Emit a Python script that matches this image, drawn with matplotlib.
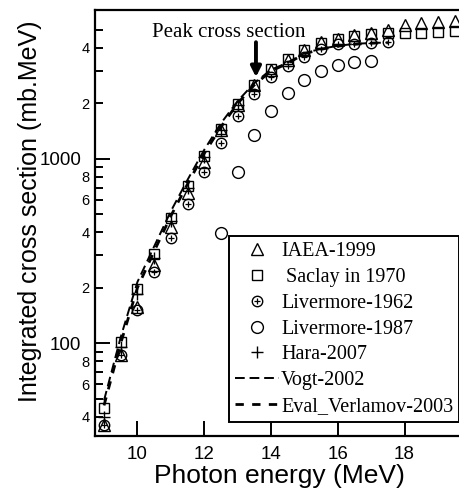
import matplotlib
matplotlib.use('Agg')
import matplotlib.pyplot as plt
from matplotlib.ticker import FixedLocator, FuncFormatter, NullFormatter
from matplotlib.legend_handler import HandlerTuple


# photon energies (MeV) for each data set
E_IAEA = [9.0, 9.5, 10.0, 10.5, 11.0, 11.5, 12.0, 12.5, 13.0, 13.5, 14.0, 14.5,
          15.0, 15.5, 16.0, 16.5, 17.0, 17.5, 18.0, 18.5, 19.0, 19.5]
IAEA_1999 = [36, 86, 158, 266, 429, 654, 967, 1436, 1960, 2521, 3040, 3450,
             3900, 4330, 4480, 4720, 4820, 5000, 5330, 5450, 5540, 5630]

E_SACLAY = E_IAEA
SACLAY_1970 = [44.4, 101, 196, 305, 477, 714, 1042, 1455, 1988, 2521, 3067, 3475,
               3902, 4245, 4463, 4648, 4750, 4830, 4830, 4830, 4880, 4930]

E_LIV62 = [9.0, 9.5, 10.0, 10.5, 11.0, 11.5, 12.0, 12.5, 13.0, 13.5, 14.0, 14.5,
           15.0, 15.5, 16.0, 16.5, 17.0, 17.5]
LIVERMORE_1962 = [36, 86, 151, 245, 374, 570, 847, 1225, 1715, 2244, 2775, 3200,
                  3590, 3950, 4180, 4220, 4280, 4290]

E_LIV87 = [12.5, 13.0, 13.5, 14.0, 14.5, 15.0, 15.5, 16.0, 16.5, 17.0]
LIVERMORE_1987 = [395, 853, 1349, 1821, 2291, 2684, 3015, 3236, 3373, 3404]

E_HARA = [9.0, 9.5, 10.0, 10.5, 11.0, 11.5, 12.0, 12.5, 13.0]
HARA_2007 = [40, 95, 185, 290, 460, 700, 1030, 1440, 1970]

E_EVAL = E_LIV62
VOGT_2002 = [49, 108, 215, 335, 520, 770, 1120, 1560, 2060, 2580, 3050, 3330,
             3750, 3960, 4110, 4210, 4260, 4280]
EVAL_VERLAMOV_2003 = [46, 100, 200, 315, 490, 730, 1070, 1490, 2000, 2520, 3000, 3300,
                      3720, 3940, 4090, 4190, 4250, 4270]

PEAK_E = 13.55
PEAK_ARROW = (4300, 2780)

plt.rcParams['font.family'] = ['Liberation Sans', 'DejaVu Sans']


def main():
    fig = plt.figure(figsize=(4.59, 4.93), dpi=100)
    ax = fig.add_axes([95 / 459, 1 - 436 / 493, 368 / 459, 426 / 493])

    k = dict(color='black', linestyle='none', markerfacecolor='none',
             markeredgecolor='black', markeredgewidth=1.0)

    vogt, = ax.plot(E_EVAL, VOGT_2002, color='black', lw=1.4,
                    dashes=(5, 2.5))
    evl, = ax.plot(E_EVAL, EVAL_VERLAMOV_2003, color='black', lw=2.0,
                   dashes=(3, 3))
    liv87, = ax.plot(E_LIV87, LIVERMORE_1987, marker='o', markersize=8.5, **k)
    liv62c, = ax.plot(E_LIV62, LIVERMORE_1962, marker='o', markersize=7.5, **k)
    liv62p, = ax.plot(E_LIV62, LIVERMORE_1962, marker='+', markersize=5,
                      color='black', linestyle='none', markeredgewidth=0.9)
    sac, = ax.plot(E_SACLAY, SACLAY_1970, marker='s', markersize=7.5, **k)
    iaea, = ax.plot(E_IAEA, IAEA_1999, marker='^', markersize=8, **k)
    hara, = ax.plot(E_HARA, HARA_2007, marker='+', markersize=8,
                    color='black', linestyle='none', markeredgewidth=1.0)

    ax.set_yscale('log')
    ax.set_xlim(8.73, 19.75)
    ax.set_ylim(31.4, 6430)

    ax.set_xticks([10, 12, 14, 16, 18])
    ax.yaxis.set_major_locator(FixedLocator([100, 1000]))
    ax.yaxis.set_major_formatter(FuncFormatter(lambda v, p: '%d' % round(v)))
    minors = [40, 50, 60, 70, 80, 90] + [m * 100 for m in range(2, 10)] + [2000, 3000, 4000, 5000]
    ax.yaxis.set_minor_locator(FixedLocator(minors))

    def minor_label(v, p):
        d = int(round(v / 10 ** int(len(str(int(round(v)))) - 1)))
        return str(d) if d in (2, 4, 6, 8) else ''
    ax.yaxis.set_minor_formatter(FuncFormatter(minor_label))
    ax.xaxis.set_minor_formatter(NullFormatter())

    ax.tick_params(axis='x', which='major', direction='in', length=11, width=1.4,
                   labelsize=13.5, pad=7.5, top=False)
    ax.tick_params(axis='x', which='minor', bottom=False, top=False)
    ax.tick_params(axis='y', which='major', direction='in', length=11, width=1.4,
                   labelsize=13.5, pad=10, right=False)
    ax.tick_params(axis='y', which='minor', direction='in', length=5.5, width=1.4,
                   labelsize=10.5, pad=4, right=False)

    for s in ('left', 'bottom', 'top'):
        ax.spines[s].set_linewidth(1.6)
    ax.spines['right'].set_visible(False)

    ax.set_xlabel('Photon energy (MeV)', fontsize=19, labelpad=0.5)
    ax.set_ylabel('Integrated cross section (mb.MeV)', fontsize=18)
    ax.yaxis.set_label_coords(-0.144, 0.528)

    ax.annotate('', xy=(PEAK_E, PEAK_ARROW[1]), xytext=(PEAK_E, PEAK_ARROW[0]),
                arrowprops=dict(arrowstyle='-|>,head_length=0.6,head_width=0.3',
                                color='black', lw=2.8, shrinkA=0, shrinkB=0))
    ax.text(12.75, 4850, 'Peak cross section', family='Liberation Serif',
            fontsize=15, ha='center', va='center')

    handles = [iaea, sac, (liv62c, liv62p), liv87, hara, vogt, evl]
    labels = ['IAEA-1999', ' Saclay in 1970', 'Livermore-1962', 'Livermore-1987',
              'Hara-2007', 'Vogt-2002', 'Eval_Verlamov-2003']
    leg = ax.legend(handles, labels, loc='lower right', bbox_to_anchor=(0.99, 0.033),
                    prop={'family': 'Liberation Serif', 'size': 14.5},
                    handler_map={tuple: HandlerTuple(ndivide=1)},
                    frameon=True, fancybox=False, framealpha=1,
                    edgecolor='black', borderpad=0.3, labelspacing=0.33,
                    handlelength=2.2, handletextpad=0.1, borderaxespad=0)
    leg.get_frame().set_linewidth(1.4)

    fig.savefig('out.png', dpi=100)
    plt.close(fig)


if __name__ == '__main__':
    main()
